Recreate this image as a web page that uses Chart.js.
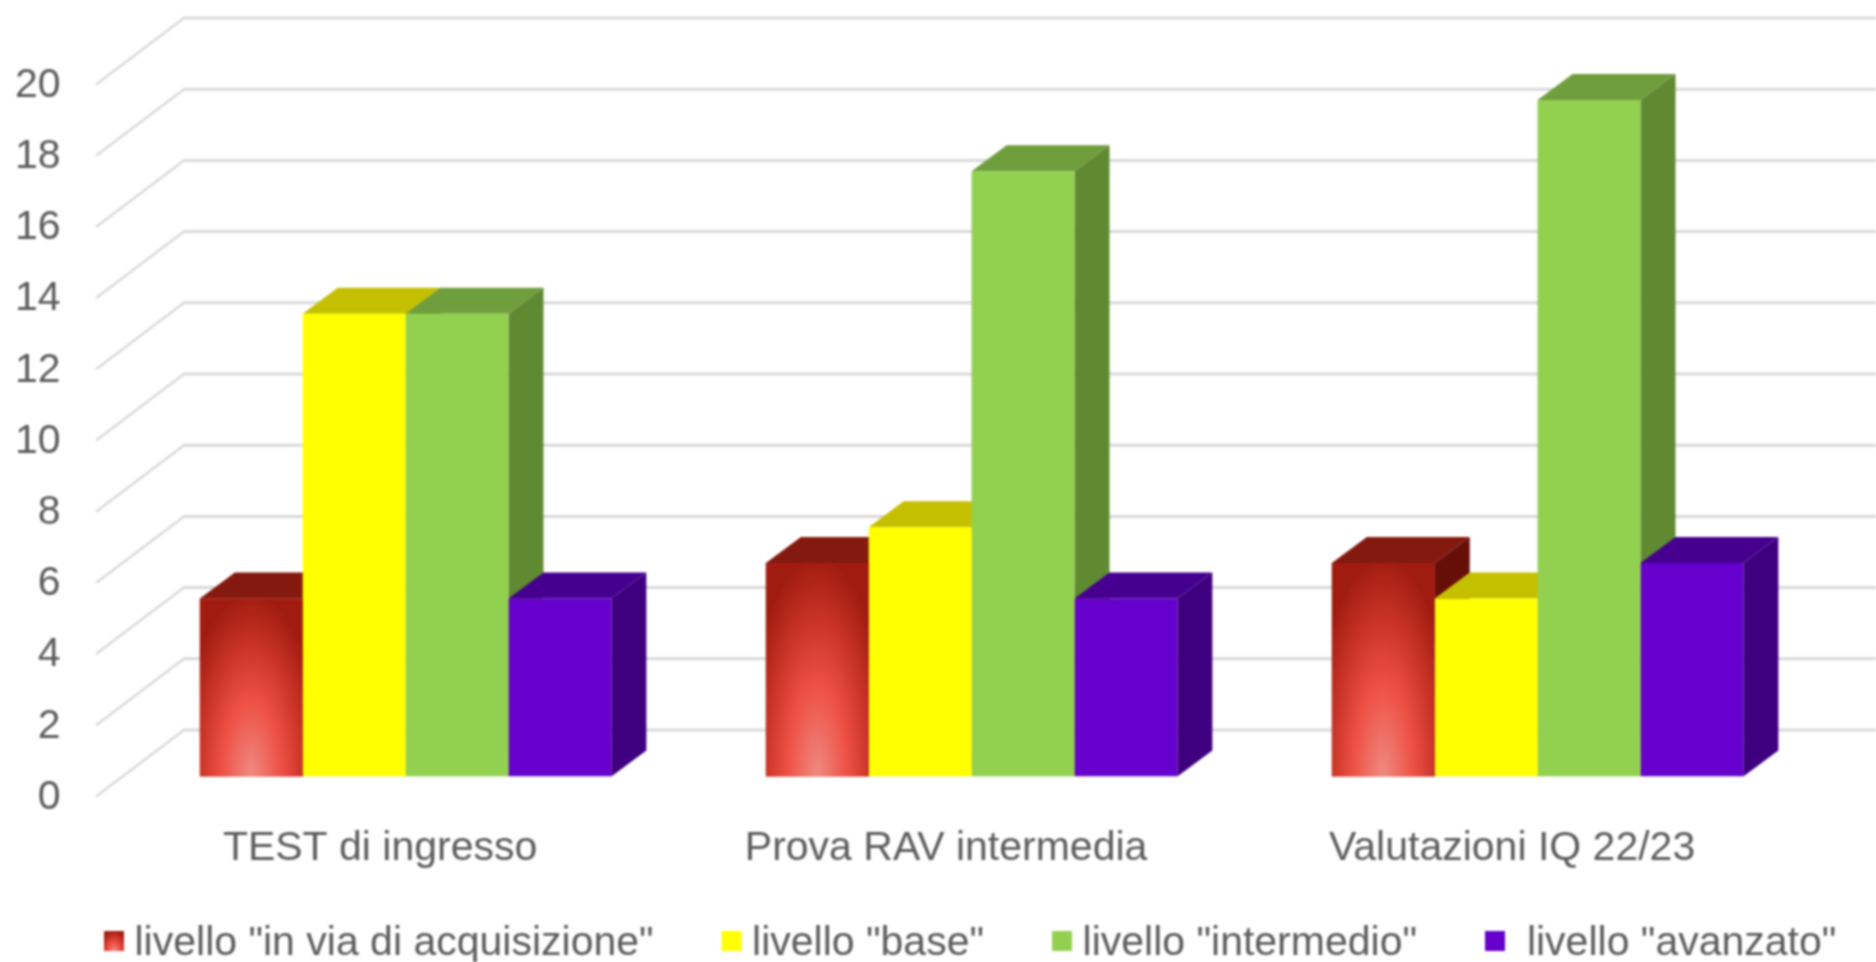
<!DOCTYPE html>
<html lang="it">
<head>
    <meta charset="UTF-8">
    <title>Livelli</title>
    <style>
        html, body { margin: 0; background: #fff; }
        canvas { display: block; filter: blur(0.8px); }
    </style>
</head>
<body>
<canvas id="livelliChart" width="1876" height="962"></canvas>

<script src="https://cdn.jsdelivr.net/npm/chart.js"></script>
<script>
    // Data
    var categories = ['TEST di ingresso', 'Prova RAV intermedia', 'Valutazioni IQ 22/23'];
    var seriesLabels = ['livello "in via di acquisizione"', 'livello "base"', 'livello "intermedio"', ' livello "avanzato"'];
    var inViaDiAcquisizione = [5, 6, 6];
    var base = [13, 7, 5];
    var intermedio = [13, 17, 19];
    var avanzato = [5, 5, 6];

    var frontColors = ['#c22f22', '#ffff00', '#92d050', '#6600cc'];
    var topColors = ['#84190f', '#c4c000', '#6f9e3c', '#460090'];
    var sideColors = ['#660f08', '#a8a400', '#5f8a32', '#3e007e'];

    var fontFamily = '"Liberation Sans", Arial, sans-serif';
    var fontSize = 41;
    var textColor = '#5c5c5c';
    var gridColor = '#d9d9d9';

    // fake 3D: how far the bars and the walls go back
    var barDepthX = 35, barDepthY = 26;
    var wallFrontX = 96, wallBackX = 184;
    var wallFrontShift = 20, wallBackShift = -46.5;

    function redGradient(ctx, x, y, w, h) {
        // elliptical glow from the bottom middle of the bar
        ctx.save();
        ctx.beginPath();
        ctx.rect(x, y, w, h);
        ctx.clip();
        ctx.translate(x + w / 2, y + h);
        ctx.scale(w * 0.7, h * 1.02);
        var g = ctx.createRadialGradient(0, 0, 0, 0, 0, 1);
        g.addColorStop(0, '#f08c82');
        g.addColorStop(0.12, '#ee7a70');
        g.addColorStop(0.42, '#ee5044');
        g.addColorStop(0.72, '#c93327');
        g.addColorStop(1, '#a11c10');
        ctx.fillStyle = g;
        ctx.fillRect(-1, -1, 2, 1.01);
        ctx.restore();
    }

    var walls = {
        id: 'walls',
        beforeDatasetsDraw: function (chart) {
            var ctx = chart.ctx;
            var scale = chart.scales.y;
            ctx.save();
            ctx.strokeStyle = gridColor;
            scale.ticks.forEach(function (tick) {
                var py = scale.getPixelForValue(tick.value);
                ctx.lineWidth = 2.5;
                ctx.beginPath();
                ctx.moveTo(wallFrontX, py + wallFrontShift);
                ctx.lineTo(wallBackX, py + wallBackShift);
                ctx.stroke();
                ctx.lineWidth = 3;
                ctx.beginPath();
                ctx.moveTo(wallBackX - 1, py + wallBackShift);
                ctx.lineTo(chart.width, py + wallBackShift);
                ctx.stroke();
            });
            ctx.restore();
        }
    };

    // Top and side faces of every bar, left to right, before the library paints the fronts:
    // a front then covers the side of the bar before it
    var depth = {
        id: 'depth',
        beforeDatasetsDraw: function (chart) {
            var ctx = chart.ctx;
            chart.data.datasets.forEach(function (ds, i) {
                chart.getDatasetMeta(i).data.forEach(function (bar) {
                    var l = bar.x - bar.width / 2, r = bar.x + bar.width / 2;
                    ctx.fillStyle = topColors[i];
                    ctx.beginPath();
                    ctx.moveTo(l, bar.y);
                    ctx.lineTo(l + barDepthX, bar.y - barDepthY);
                    ctx.lineTo(r + barDepthX, bar.y - barDepthY);
                    ctx.lineTo(r, bar.y);
                    ctx.closePath();
                    ctx.fill();
                    ctx.fillStyle = sideColors[i];
                    ctx.beginPath();
                    ctx.moveTo(r, bar.y);
                    ctx.lineTo(r + barDepthX, bar.y - barDepthY);
                    ctx.lineTo(r + barDepthX, bar.base - barDepthY);
                    ctx.lineTo(r, bar.base);
                    ctx.closePath();
                    ctx.fill();
                });
            });
        },
        afterDatasetDraw: function (chart, args) {
            if (args.index !== 0) return;
            chart.getDatasetMeta(0).data.forEach(function (bar) {
                redGradient(chart.ctx, bar.x - bar.width / 2, bar.y, bar.width, bar.base - bar.y);
            });
        }
    };

    // built-in legend pads the same amount sideways and vertically, so it is drawn here
    var legendRow = {
        id: 'legendRow',
        afterDraw: function (chart) {
            var ctx = chart.ctx;
            var x = 104, y = 944, box = 20;
            ctx.save();
            ctx.font = fontSize + 'px ' + fontFamily;
            ctx.textBaseline = 'middle';
            chart.data.datasets.forEach(function (ds, i) {
                if (i === 0) {
                    redGradient(ctx, x, y - box / 2 - 3, box, box);
                } else {
                    ctx.fillStyle = frontColors[i];
                    ctx.fillRect(x, y - box / 2 - 3, box, box);
                }
                ctx.fillStyle = textColor;
                ctx.fillText(ds.label, x + box + 10.5, y);
                x += box + 10.5 + ctx.measureText(ds.label).width + 68;
            });
            ctx.restore();
        }
    };

    function makeDataset(i, values) {
        return {
            label: seriesLabels[i],
            data: values,
            backgroundColor: frontColors[i],
            borderWidth: 0
        };
    }

    var chart = new Chart(document.getElementById('livelliChart').getContext('2d'), {
        type: 'bar',
        data: {
            labels: categories,
            datasets: [
                makeDataset(0, inViaDiAcquisizione),
                makeDataset(1, base),
                makeDataset(2, intermedio),
                makeDataset(3, avanzato)
            ]
        },
        options: {
            responsive: false,
            animation: false,
            layout: { padding: { top: 64.5, right: 55.4 } },
            datasets: { bar: { barPercentage: 1, categoryPercentage: 0.727 } },
            plugins: { legend: { display: false }, tooltip: { enabled: false } },
            scales: {
                x: {
                    grid: { display: false, drawTicks: false },
                    border: { display: false },
                    afterFit: function (s) { s.height = 185.5; s.paddingLeft = 0; s.paddingRight = 0; },
                    ticks: {
                        autoSkip: false,
                        maxRotation: 0,
                        padding: 48,
                        labelOffset: -25.5,
                        color: textColor,
                        font: { family: fontFamily, size: fontSize }
                    }
                },
                y: {
                    min: 0,
                    max: 20,
                    grid: { display: false, drawTicks: false },
                    border: { display: false },
                    afterFit: function (s) { s.width = 122.6; s.paddingTop = 0; s.paddingBottom = 0; },
                    ticks: {
                        stepSize: 2,
                        padding: 62,
                        labelOffset: 21,
                        color: textColor,
                        font: { family: fontFamily, size: fontSize }
                    }
                }
            }
        },
        plugins: [walls, depth, legendRow]
    });
</script>
</body>
</html>
